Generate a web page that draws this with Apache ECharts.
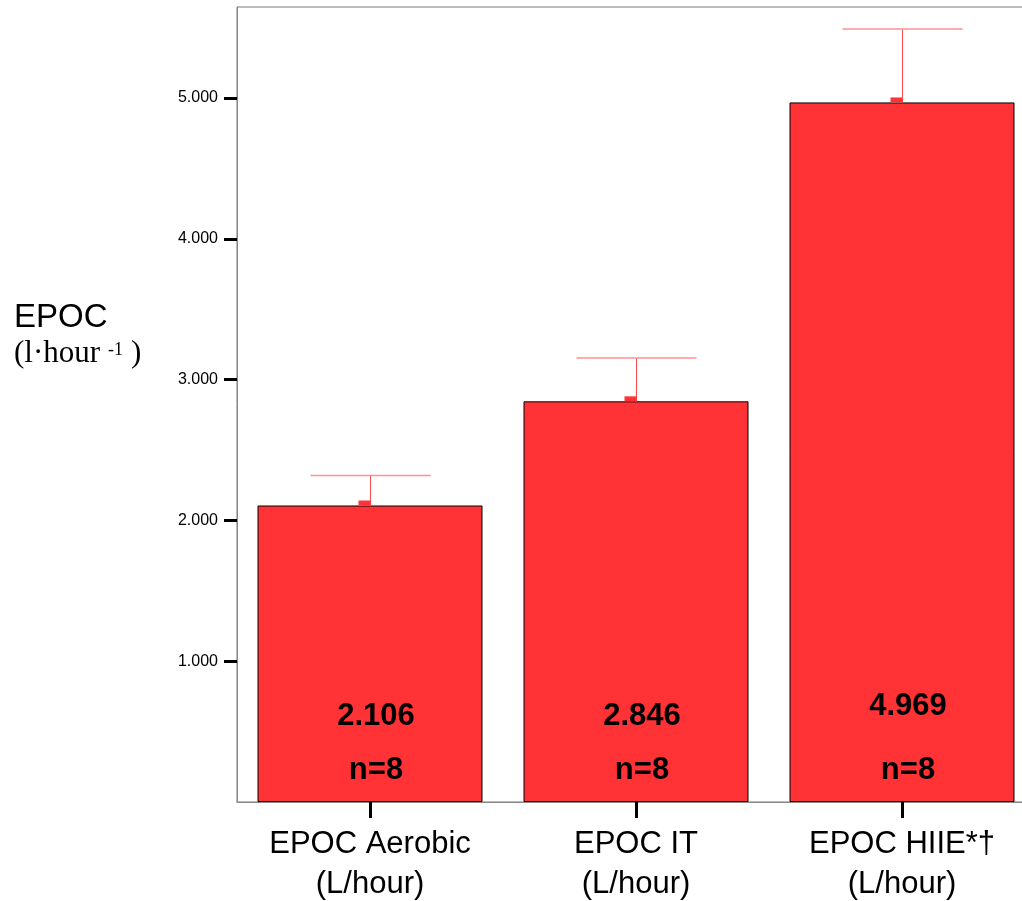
<!DOCTYPE html>
<html>
<head>
<meta charset="utf-8">
<script src="https://cdn.jsdelivr.net/npm/echarts@6/dist/echarts.min.js"></script>
<style>
html,body{margin:0;padding:0;background:#fff;}
#chart{width:1022px;height:901px;}
</style>
</head>
<body>
<div id="chart"></div>
<script>
const categories = ['EPOC Aerobic\n(L/hour)', 'EPOC IT\n(L/hour)', 'EPOC HIIE*\u2020\n(L/hour)'];
const means = [2.106, 2.846, 4.969];
const upperErr = [2.319, 3.153, 5.490];
const valueLabels = ['2.106', '2.846', '4.969'];
const nLabels = ['n=8', 'n=8', 'n=8'];
const yTickValues = [1, 2, 3, 4, 5];
const valueLabelLift = [0, 0, 10];

const chart = echarts.init(document.getElementById('chart'), null, {renderer: 'canvas'});
const BAR_RED = '#FF3236';
const option = {
  animation: false,
  backgroundColor: '#fff',
  grid: {left: 237, top: 7, width: 798, height: 795, show: true, borderColor: '#777', borderWidth: 1,
    backgroundColor: 'transparent', containLabel: false, outerBoundsMode: 'none'},
  xAxis: {
    type: 'category',
    data: categories,
    axisLine: {show: true, lineStyle: {color: '#888', width: 1}},
    axisTick: {show: true, alignWithLabel: true, length: 16, lineStyle: {color: '#000', width: 3}},
    axisLabel: {margin: 22, fontFamily: 'Liberation Sans', fontSize: 31, lineHeight: 40, color: '#000'},
    splitLine: {show: false}
  },
  yAxis: {
    type: 'value',
    min: 0,
    max: 5.647,
    interval: 1,
    axisLine: {show: true, lineStyle: {color: '#888', width: 1}},
    axisTick: {show: true, length: 13, customValues: yTickValues, lineStyle: {color: '#000', width: 3}},
    axisLabel: {margin: 19, fontFamily: 'Liberation Sans', fontSize: 16, color: '#000',
      customValues: yTickValues,
      formatter: v => v.toFixed(3)},
    splitLine: {show: false}
  },
  graphic: [
    {type: 'text', left: 14, top: 301, style: {text: 'EPOC', font: '33px "Liberation Sans"', fill: '#000'}},
    {type: 'text', x: 14, y: 354, style: {text: '(l\u00B7hour', font: '31px "Liberation Serif"', fill: '#000', verticalAlign: 'middle', align: 'left'}},
    {type: 'text', x: 108, y: 350, style: {text: '-1', font: '18px "Liberation Serif"', fill: '#000', verticalAlign: 'middle', align: 'left'}},
    {type: 'text', x: 131, y: 354, style: {text: ')', font: '31px "Liberation Serif"', fill: '#000', verticalAlign: 'middle', align: 'left'}}
  ],
  series: [
    {
      type: 'bar',
      data: means,
      barWidth: 225,
      itemStyle: {color: BAR_RED, borderColor: '#000', borderWidth: 1},
      z: 2
    },
    {
      type: 'custom',
      data: means.map((m, i) => [i, m, upperErr[i]]),
      z: 5,
      renderItem: function (params, api) {
        const i = params.dataIndex;
        const base = api.coord([i, 0]);
        const top = api.coord([i, means[i]]);
        const up = api.coord([i, upperErr[i]]);
        const x = Math.round(base[0]) + 0.5;
        return {
          type: 'group',
          children: [
            {type: 'line', shape: {x1: x, y1: top[1], x2: x, y2: up[1]}, style: {stroke: '#FF4A4A', lineWidth: 1}},
            {type: 'line', shape: {x1: x - 60, y1: up[1], x2: x + 60, y2: up[1]}, style: {stroke: '#FF9090', lineWidth: 1.5}},
            {type: 'rect', shape: {x: x - 12, y: top[1] - 5, width: 12, height: 5}, style: {fill: BAR_RED}},
            {type: 'text', style: {text: valueLabels[i], x: base[0] + 6, y: base[1] - 86 - valueLabelLift[i], align: 'center', verticalAlign: 'middle', font: 'bold 31px "Liberation Sans"', fill: '#000'}},
            {type: 'text', style: {text: nLabels[i], x: base[0] + 6, y: base[1] - 32, align: 'center', verticalAlign: 'middle', font: 'bold 31px "Liberation Sans"', fill: '#000'}}
          ]
        };
      }
    }
  ]
};
chart.setOption(option);
</script>
</body>
</html>
